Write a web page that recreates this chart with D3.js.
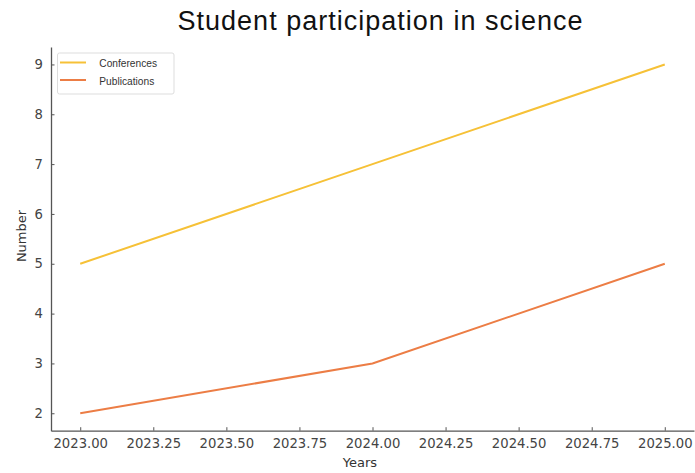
<!DOCTYPE html>
<html><head><meta charset="utf-8">
<script src="https://cdn.jsdelivr.net/npm/d3@7"></script>
<style>body{margin:0;background:#fff}svg{display:block}</style>
</head><body>
<svg id="c" width="695" height="473"></svg>
<script>
const years = [2023, 2024, 2025];
const conferences = [5, 7, 9];
const publications = [2, 3, 5];
const seriesNames = ["Conferences", "Publications"];
const xTicks = [2023, 2023.25, 2023.5, 2023.75, 2024, 2024.25, 2024.5, 2024.75, 2025];
const yTicks = [2, 3, 4, 5, 6, 7, 8, 9];

const colors = ["#f6c137", "#ec7d45"];
const svg = d3.select("#c");
const x = d3.scaleLinear().domain([2022.9, 2025.1]).range([51, 694]);
const y = d3.scaleLinear().domain([1.65, 9.35]).range([430.7, 47]);
const tickColor = "#444";
const font = "DejaVu Sans, sans-serif";
const sans = "Liberation Sans, Arial, sans-serif";

// axes
const xa = svg.append("g").attr("transform", "translate(0,430.7)")
  .call(d3.axisBottom(x).tickValues(xTicks).tickFormat(d3.format(".2f")).tickSizeInner(-3.5).tickSizeOuter(0).tickPadding(8));
const ya = svg.append("g").attr("transform", "translate(51,0)")
  .call(d3.axisLeft(y).tickValues(yTicks).tickFormat(d3.format("d")).tickSizeInner(-3.5).tickSizeOuter(0).tickPadding(8));
[xa, ya].forEach(g => {
  g.select(".domain").attr("stroke", "#555").attr("stroke-width", 1.3);
  g.selectAll(".tick line").attr("stroke", "#555").attr("stroke-width", 1);
  g.selectAll(".tick text").attr("fill", tickColor).style("font-family", font).style("font-size", "13.2px");
});

const line = d3.line().x((d, i) => x(years[i])).y(d => y(d));
[conferences, publications].forEach((s, k) => {
  svg.append("path").datum(s).attr("d", line).attr("fill", "none")
    .attr("stroke", colors[k]).attr("stroke-width", 2);
});

// title and labels
svg.append("text").attr("x", 380).attr("y", 29.5).attr("text-anchor", "middle")
  .attr("textLength", 405).attr("lengthAdjust", "spacing")
  .style("font-family", sans).style("font-size", "27px").attr("fill", "#111")
  .text("Student participation in science");
svg.append("text").attr("x", 360).attr("y", 467).attr("text-anchor", "middle")
  .style("font-family", font).style("font-size", "13px").attr("fill", "#333").text("Years");
svg.append("text").attr("transform", "translate(25.5,236) rotate(-90)").attr("text-anchor", "middle")
  .style("font-family", font).style("font-size", "13px").attr("fill", "#333").text("Number");

// legend
const lg = svg.append("g");
lg.append("rect").attr("x", 57.5).attr("y", 53).attr("width", 116.5).attr("height", 41).attr("rx", 2)
  .attr("fill", "#fff").attr("stroke", "#ddd").attr("stroke-width", 1);
seriesNames.forEach((n, k) => {
  const yy = 62.5 + k * 17.5;
  lg.append("line").attr("x1", 60).attr("x2", 86).attr("y1", yy).attr("y2", yy)
    .attr("stroke", colors[k]).attr("stroke-width", 2);
  lg.append("text").attr("x", 99.3).attr("y", yy + 4.5).style("font-family", sans).style("font-size", "10.2px")
    .attr("fill", "#333").text(n);
});
</script>
</body></html>
